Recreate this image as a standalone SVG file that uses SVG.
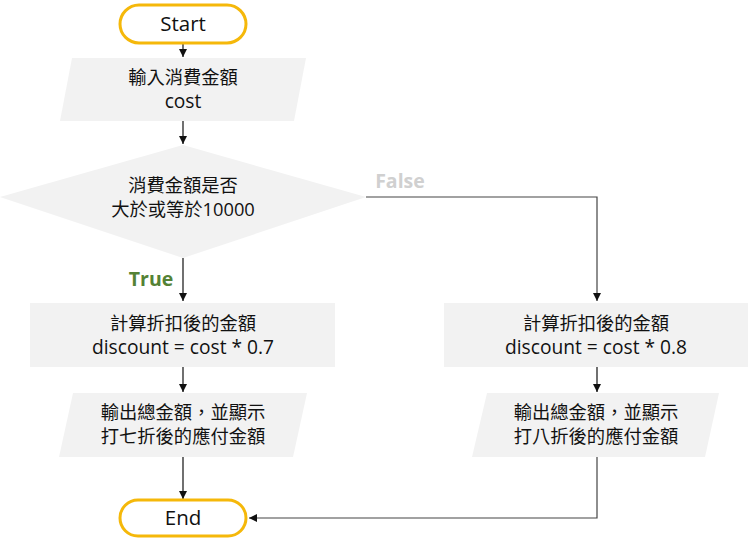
<svg xmlns="http://www.w3.org/2000/svg" width="755" height="541" viewBox="0 0 755 541">
<style>
.t{font-family:"Open Sans","Noto Sans CJK TC",sans-serif;font-size:18.3px;fill:#111;text-anchor:middle}
.l{font-size:19.2px}
.tt{font-size:20.5px}
.term{fill:#fff;stroke:#f5b80a;stroke-width:3}
.box{fill:#f2f2f2;stroke:none}
.c{fill:none;stroke:#111;stroke-width:1.2}
.c2{fill:none;stroke:#444;stroke-width:1.2}
.lbl{font-family:"Open Sans","Noto Sans CJK TC",sans-serif;font-size:19.5px;font-weight:bold}
</style>
<defs>
<marker id="ah" viewBox="0 0 10 10" refX="10" refY="5" markerWidth="8" markerHeight="8" markerUnits="userSpaceOnUse" orient="auto">
<path d="M0,0 L10,5 L0,10 z" fill="#111"/>
</marker>
</defs>
<g id="connectors">
<path class="c" d="M183,44 V57" marker-end="url(#ah)"/>
<path class="c" d="M183,121 V144" marker-end="url(#ah)"/>
<path class="c" d="M183,258 V301" marker-end="url(#ah)"/>
<path class="c2" d="M366,197 H597 V301" marker-end="url(#ah)"/>
<path class="c" d="M183,367 V392" marker-end="url(#ah)"/>
<path class="c" d="M597,367 V392" marker-end="url(#ah)"/>
<path class="c" d="M183,457 V499" marker-end="url(#ah)"/>
<path class="c2" d="M597,457 V518 H249" marker-end="url(#ah)"/>
<text class="lbl" x="400" y="188" fill="#d0d0d0" text-anchor="middle">False</text>
<text class="lbl" x="151" y="286" fill="#548235" text-anchor="middle">True</text>
</g>
<g id="start">
<rect class="term" x="120" y="5" width="126" height="38" rx="19"/>
<text class="t tt" x="183" y="31">Start</text>
</g>
<g id="input">
<polygon class="box" points="72,58 306,58 294,121 60,121"/>
<text class="t" x="183" y="84">輸入消費金額</text>
<text class="t l" x="183" y="108">cost</text>
</g>
<g id="decision">
<polygon class="box" points="183,145 366,197 183,258 0,197"/>
<text class="t" x="183" y="192">消費金額是否</text>
<text class="t" x="183" y="216">大於或等於10000</text>
</g>
<g id="calc07">
<rect class="box" x="30" y="303" width="305" height="64"/>
<text class="t" x="183" y="330">計算折扣後的金額</text>
<text class="t l" x="183" y="354">discount = cost * 0.7</text>
</g>
<g id="calc08">
<rect class="box" x="444" y="303" width="304" height="64"/>
<text class="t" x="596" y="330">計算折扣後的金額</text>
<text class="t l" x="596" y="354">discount = cost * 0.8</text>
</g>
<g id="output07">
<polygon class="box" points="73,393 307,393 293,457 59,457"/>
<text class="t" x="183" y="419">輸出總金額，並顯示</text>
<text class="t" x="183" y="443">打七折後的應付金額</text>
</g>
<g id="output08">
<polygon class="box" points="487,393 719,393 705,457 472,457"/>
<text class="t" x="596" y="419">輸出總金額，並顯示</text>
<text class="t" x="596" y="443">打八折後的應付金額</text>
</g>
<g id="end">
<rect class="term" x="120" y="500" width="126" height="36" rx="18"/>
<text class="t tt" x="183" y="525">End</text>
</g>
</svg>
